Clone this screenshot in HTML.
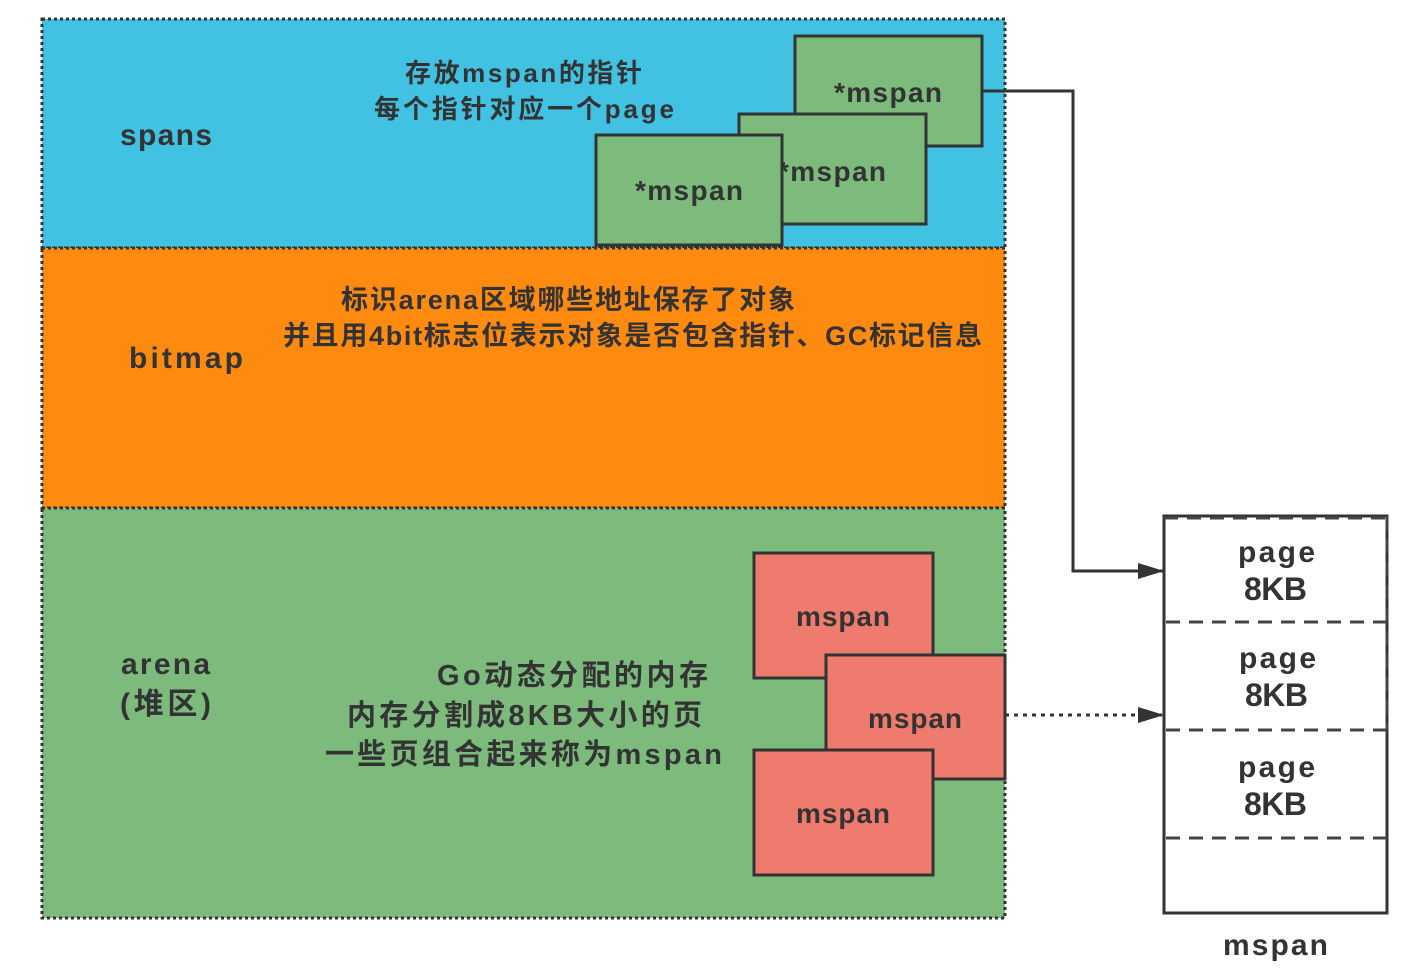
<!DOCTYPE html>
<html><head><meta charset="utf-8"><style>
html,body{margin:0;padding:0;background:#fff;}
svg{display:block}
text{font-family:"Liberation Sans","Noto Sans CJK SC",sans-serif;font-weight:bold;fill:#333;}
</style></head><body>
<svg width="1408" height="972" viewBox="0 0 1408 972" xmlns="http://www.w3.org/2000/svg">
<defs>
<marker id="b" viewBox="0 0 26 20" markerWidth="26" markerHeight="20" refX="26" refY="10" orient="auto" markerUnits="userSpaceOnUse"><path d="M0,2 L26,10 L0,18 Z" fill="#333"/></marker></defs>
<rect x="42" y="19" width="963" height="229" fill="#41C2E2" stroke="#333" stroke-width="3" stroke-dasharray="3,3"/>
<rect x="42" y="248" width="963" height="260" fill="#FF8A10" stroke="#333" stroke-width="3" stroke-dasharray="3,3"/>
<rect x="42" y="508" width="963" height="410" fill="#7DBB7D" stroke="#333" stroke-width="3" stroke-dasharray="3,3"/>
<text x="120" y="145" font-size="30" textLength="92" fill="#2a3e4c">spans</text>
<text x="129" y="368" font-size="30" textLength="114">bitmap</text>
<text x="121" y="674" font-size="30" textLength="89">arena</text>
<text x="120" y="714" font-size="30" textLength="91">(堆区)</text>
<text x="405" y="82" font-size="26" textLength="237">存放mspan的指针</text>
<text x="374" y="118" font-size="26" textLength="300">每个指针对应一个page</text>
<text x="341" y="309" font-size="27" textLength="454">标识arena区域哪些地址保存了对象</text>
<text x="283" y="345" font-size="27" textLength="699">并且用4bit标志位表示对象是否包含指针、GC标记信息</text>
<text x="437" y="685" font-size="29" textLength="271">Go动态分配的内存</text>
<text x="347" y="725" font-size="29" textLength="355">内存分割成8KB大小的页</text>
<text x="325" y="764" font-size="29" textLength="397">一些页组合起来称为mspan</text>
<rect x="795" y="36" width="187" height="110" fill="#7DBB7D" stroke="#333" stroke-width="3"/>
<text x="834" y="102" font-size="28" textLength="108">*mspan</text>
<rect x="739" y="114" width="187" height="110" fill="#7DBB7D" stroke="#333" stroke-width="3"/>
<text x="778" y="181" font-size="28" textLength="108">*mspan</text>
<rect x="596" y="135" width="186" height="110" fill="#7DBB7D" stroke="#333" stroke-width="3"/>
<text x="635" y="200" font-size="28" textLength="108">*mspan</text>
<rect x="754" y="553" width="179" height="125" fill="#EE7B6E" stroke="#333" stroke-width="3"/>
<text x="796" y="626" font-size="28" textLength="94">mspan</text>
<rect x="826" y="655" width="179" height="124" fill="#EE7B6E" stroke="#333" stroke-width="3"/>
<text x="868" y="728" font-size="28" textLength="94">mspan</text>
<rect x="754" y="750" width="179" height="125" fill="#EE7B6E" stroke="#333" stroke-width="3"/>
<text x="796" y="823" font-size="28" textLength="94">mspan</text>
<polyline points="982,91 1073,91 1073,571 1164,571" fill="none" stroke="#333" stroke-width="3" marker-end="url(#b)"/>
<line x1="1005" y1="715" x2="1164" y2="715" stroke="#333" stroke-width="3" stroke-dasharray="4,5" marker-end="url(#b)"/>
<rect x="1164" y="516" width="223" height="397" fill="#fff" stroke="#333" stroke-width="3"/>
<g stroke="#444" stroke-width="3" stroke-dasharray="14,9" fill="none">
<line x1="1164" y1="518" x2="1387" y2="518"/>
<line x1="1387" y1="516" x2="1387" y2="730"/>
<line x1="1166" y1="622" x2="1387" y2="622"/>
<line x1="1166" y1="730" x2="1387" y2="730"/>
<line x1="1166" y1="838" x2="1387" y2="838"/>
</g>
<text x="1238" y="562" font-size="30" textLength="77">page</text>
<text x="1244" y="600" font-size="32" textLength="63">8KB</text>
<text x="1239" y="668" font-size="30" textLength="77">page</text>
<text x="1245" y="706" font-size="32" textLength="63">8KB</text>
<text x="1238" y="777" font-size="30" textLength="77">page</text>
<text x="1244" y="815" font-size="32" textLength="63">8KB</text>
<text x="1223" y="955" font-size="30" textLength="105">mspan</text>
</svg>
</body></html>
